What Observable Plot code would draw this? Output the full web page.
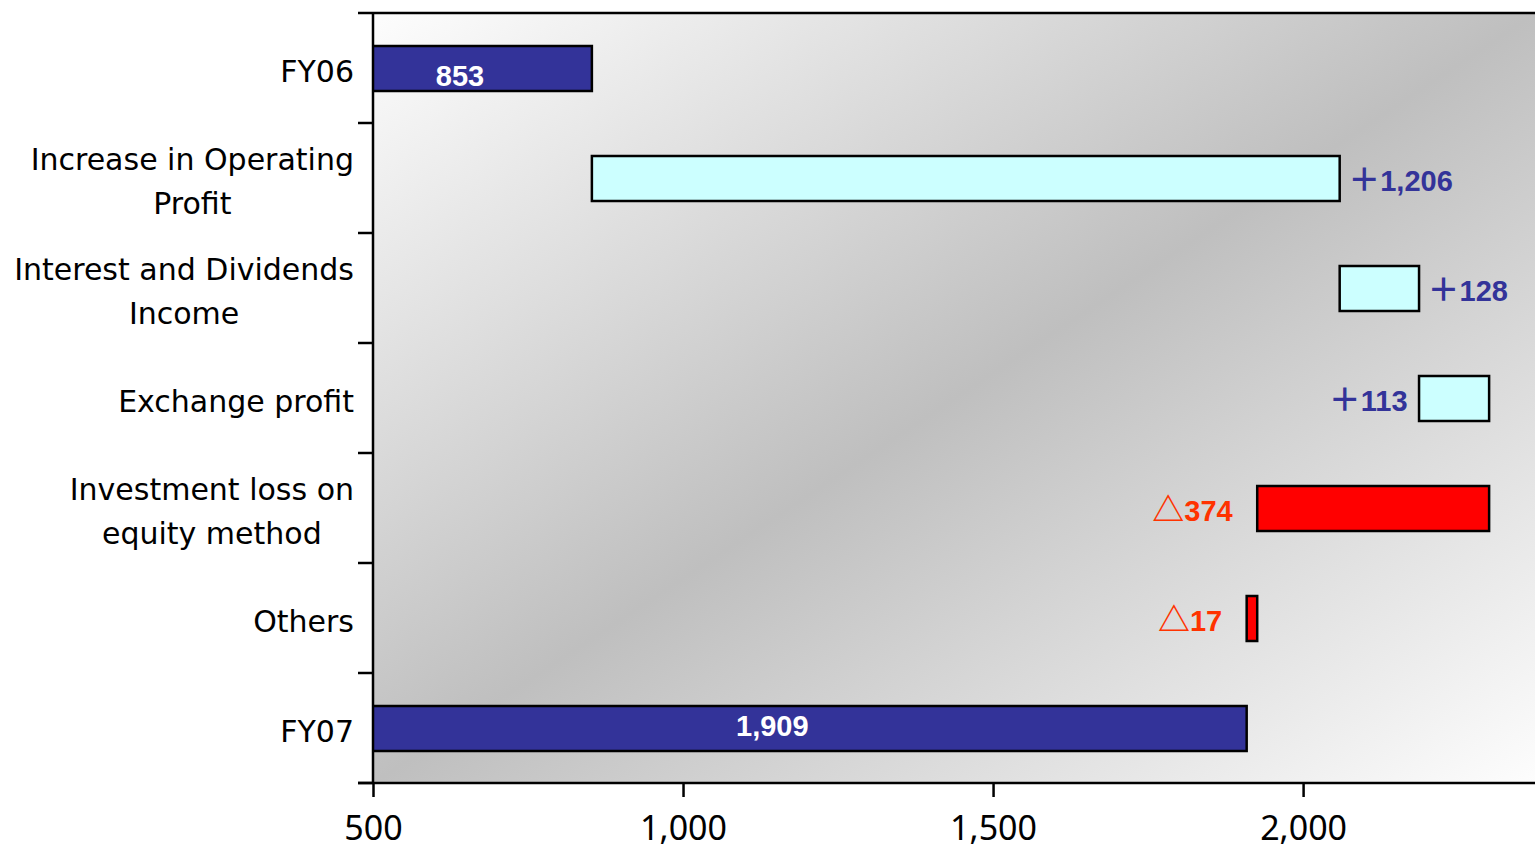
<!DOCTYPE html>
<html><head><meta charset="utf-8">
<script src="https://cdn.jsdelivr.net/npm/d3@7"></script>
<script src="https://cdn.jsdelivr.net/npm/@observablehq/plot@0.6"></script>
<style>body{margin:0;background:#fff}</style>
</head><body><div id="chart"></div>
<script>
const categories = ["FY06","Increase in Operating\nProfit","Interest and Dividends\nIncome","Exchange profit","Investment loss on\nequity method","Others","FY07"];
const kinds = ["total","up","up","up","down","down","total"];
const values = [853, 1206, 128, 113, -374, -17, 1909];
const valueLabels = ["853","＋1,206","＋128","＋113","△374","△17","1,909"];
const labelSide = ["inside","right","right","left","left","left","inside"];
const xTicks = [500, 1000, 1500, 2000];
const xDomain = [500, 2374];

const fills = {total: "#333399", up: "#ccffff", down: "#ff0000"};
const labelColors = {total: "#ffffff", up: "#333399", down: "#ff3300"};

let running = 0;
const rows = categories.map((cat, i) => {
  let x1, x2;
  if (kinds[i] === "total") { x1 = 0; x2 = values[i]; running = values[i]; }
  else { x1 = running; x2 = running + values[i]; running = x2; }
  return {cat, x1, x2, lo: Math.min(x1, x2), hi: Math.max(x1, x2), kind: kinds[i], label: valueLabels[i], side: labelSide[i], fill: fills[kinds[i]], color: labelColors[kinds[i]]};
});
const inside = rows.filter(d => d.side === "inside").map(d => ({...d, mid: (Math.max(xDomain[0], d.lo) + d.hi) / 2}));

const catFont = "'DejaVu Sans', sans-serif";
const catSize = 30;
const catSpacing = 0;

function defsMark() {
  const g = d3.create("svg:g");
  const grad = g.append("defs").append("linearGradient")
    .attr("id", "bgGrad").attr("x1", 0).attr("y1", 0).attr("x2", 1).attr("y2", 1);
  grad.append("stop").attr("offset", 0).attr("stop-color", "#fdfdfd");
  grad.append("stop").attr("offset", 0.5).attr("stop-color", "#bfbfbf");
  grad.append("stop").attr("offset", 1).attr("stop-color", "#fdfdfd");
  return g.node();
}

function frameLines(index, scales, values, dims) {
  const {marginLeft: L, marginTop: T, marginBottom: B, width: W, height: H} = dims;
  const bottom = H - B;
  const g = d3.create("svg:g").attr("stroke", "#000").attr("stroke-width", 2.5).attr("fill", "none");
  g.append("line").attr("x1", L - 15).attr("x2", W).attr("y1", T).attr("y2", T);
  g.append("line").attr("x1", L - 15).attr("x2", W).attr("y1", bottom).attr("y2", bottom);
  g.append("line").attr("x1", L).attr("x2", L).attr("y1", T).attr("y2", bottom);
  const y = scales.y;
  const bw = y.bandwidth();
  categories.forEach(c => {
    const yy = y(c) + bw;
    g.append("line").attr("x1", L - 15).attr("x2", L).attr("y1", yy).attr("y2", yy);
  });
  return g.node();
}

function catLabels(index, scales, values, dims) {
  const y = scales.y;
  const bw = y.bandwidth();
  const right = dims.marginLeft - 19;
  const ctx = document.createElement("canvas").getContext("2d");
  ctx.font = `${catSize}px ${catFont}`;
  const g = d3.create("svg:g").attr("font-family", catFont).attr("font-size", catSize)
    .attr("letter-spacing", catSpacing).attr("fill", "#000").attr("text-anchor", "middle");
  const lh = 44;
  categories.forEach(c => {
    const lines = c.split("\n");
    const widths = lines.map(s => ctx.measureText(s).width + catSpacing * s.length);
    const maxW = Math.max(...widths);
    const cx = right - maxW / 2;
    const cy = y(c) + bw / 2 + 3;
    lines.forEach((s, k) => {
      g.append("text").attr("x", cx).attr("y", cy + (k - (lines.length - 1) / 2) * lh)
        .attr("dy", "0.36em").text(s);
    });
  });
  return g.node();
}

const valFont = "'Liberation Sans', Arial, sans-serif";
const valSize = 29;

const plot = Plot.plot({
  width: 1535, height: 847,
  marginLeft: 373, marginRight: 0, marginTop: 13, marginBottom: 64,
  x: {domain: xDomain, axis: null},
  y: {domain: categories, padding: 0, axis: null},
  color: {type: "identity"},
  style: {background: "transparent", overflow: "visible"},
  marks: [
    defsMark,
    Plot.frame({fill: "url(#bgGrad)", stroke: null}),
    Plot.barX(rows, {x1: "x1", x2: "x2", y: "cat", fill: "fill", stroke: "#000", strokeWidth: 2.5, insetTop: 33, insetBottom: 32, clip: true}),
    Plot.text(inside.filter(d => d.cat === "FY06"), {x: "mid", y: "cat", text: "label", fill: "color", dx: -23, dy: 8, fontSize: valSize, fontWeight: "bold", fontFamily: valFont}),
    Plot.text(inside.filter(d => d.cat === "FY07"), {x: "mid", y: "cat", text: "label", fill: "color", dx: -38, dy: -2, fontSize: valSize, fontWeight: "bold", fontFamily: valFont}),
    Plot.text(rows.filter(d => d.side === "right"), {x: "hi", y: "cat", text: "label", fill: "color", textAnchor: "start", dx: 8, dy: 3, fontSize: valSize, fontWeight: "bold", fontFamily: valFont}),
    Plot.text(rows.filter(d => d.side === "left" && d.kind === "up"), {x: "lo", y: "cat", text: "label", fill: "color", textAnchor: "end", dx: -12, dy: 3, fontSize: valSize, fontWeight: "bold", fontFamily: valFont}),
    Plot.text(rows.filter(d => d.side === "left" && d.kind === "down"), {x: "lo", y: "cat", text: "label", fill: "color", textAnchor: "end", dx: -25, dy: 3, fontSize: valSize, fontWeight: "bold", fontFamily: valFont}),
    frameLines,
    catLabels,
    Plot.axisX({ticks: xTicks, tickSize: 14, tickPadding: 18, fontSize: 34, tickFormat: d3.format(","), strokeWidth: 2.5, fontFamily: "'Noto Sans', sans-serif", color: "#000"})
  ]
});
// enlarge the leading full-width symbols (＋ / △) as in the original
d3.select(plot).selectAll("text").each(function() {
  const t = this.textContent;
  if (/^[＋△]/.test(t)) {
    const sel = d3.select(this);
    sel.text(null);
    sel.append("tspan").attr("font-family", "'Noto Sans CJK JP', sans-serif").attr("font-weight", "bold").attr("font-size", 32).text(t[0]);
    sel.append("tspan").text(t.slice(1));
  }
});
document.getElementById("chart").appendChild(plot);
</script>
</body></html>
